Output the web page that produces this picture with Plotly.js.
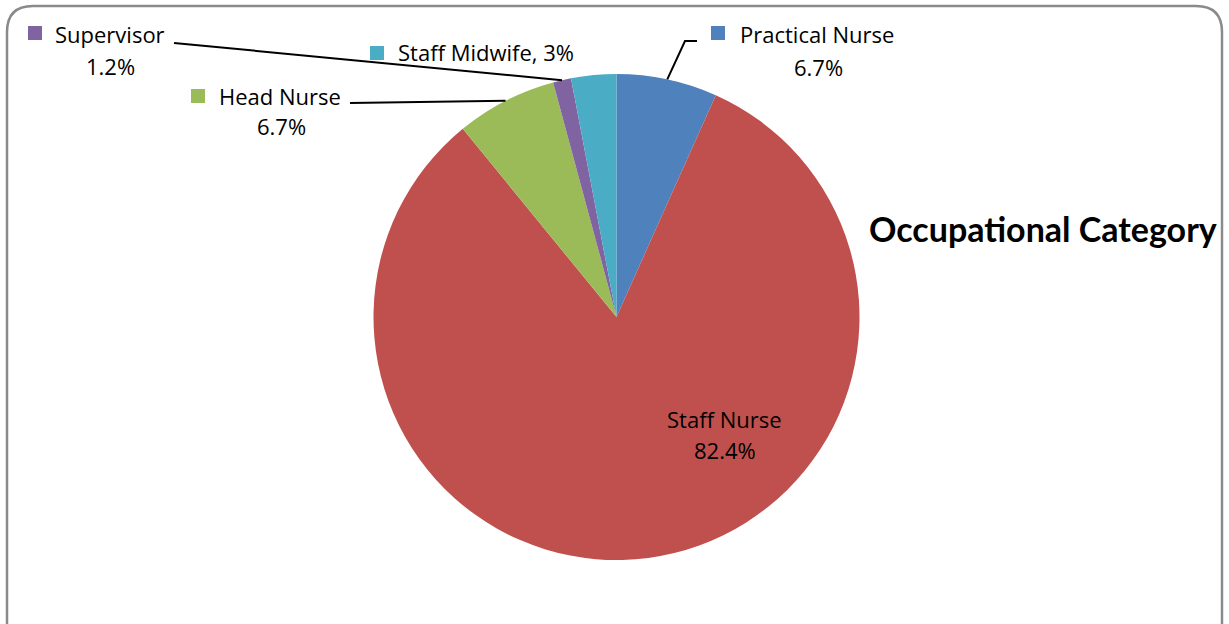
<!DOCTYPE html>
<html>
<head>
<meta charset="utf-8">
<script src="https://cdn.plot.ly/plotly-3.0.1.min.js"></script>
<style>html,body{margin:0;padding:0;background:#fff;}#chart{width:1229px;height:624px;}</style>
</head>
<body>
<div id="chart"></div>
<script>
// ---- data ----
const categories = ["Practical Nurse", "Staff Nurse", "Head Nurse", "Supervisor", "Staff Midwife"];
const percents = [6.7, 82.4, 6.7, 1.2, 3];
const colors = ["#4F81BD", "#C0504D", "#9BBB59", "#8064A2", "#4BACC6"];
const chartTitle = "Occupational Category";

// ---- layout helpers ----
const W = 1229, H = 624;
const px = x => x / W;
const py = y => 1 - y / H;
const cx = 616.5, cy = 317, R = 243;

// label placement (pixel positions of label text), per category index
const labelCfg = [
  {name: {x: 738, y: 34}, pct: {x: 818, y: 67}, key: {x: 711, y: 26}, line: [[697, 41], [685, 41]]},
  {inside: true, name: {x: 724, y: 419}, pct: {x: 725, y: 450}},
  {name: {x: 217, y: 96}, pct: {x: 281, y: 126}, key: {x: 191, y: 89}, line: [[350, 103]]},
  {name: {x: 53, y: 34}, pct: {x: 110, y: 66}, key: {x: 28, y: 26}, line: [[174, 43]]},
  {single: true, name: {x: 396, y: 52}, key: {x: 370, y: 46}}
];

const total = percents.reduce((a, b) => a + b, 0);
const annotations = [];
const shapes = [];
const font = {family: "Open Sans, sans-serif", size: 22, color: "#000"};
let cum = 0;
percents.forEach((v, i) => {
  const mid = (cum + v / 2) / total * 2 * Math.PI;
  cum += v;
  const edge = [cx + R * Math.sin(mid), cy - R * Math.cos(mid)];
  const c = labelCfg[i];
  const pctText = v + "%";
  if (c.inside) {
    annotations.push({x: px(c.name.x), y: py(c.name.y), xref: "paper", yref: "paper", text: categories[i], showarrow: false, xanchor: "center", yanchor: "middle", font});
    annotations.push({x: px(c.pct.x), y: py(c.pct.y), xref: "paper", yref: "paper", text: pctText, showarrow: false, xanchor: "center", yanchor: "middle", font});
    return;
  }
  if (c.single) {
    annotations.push({x: px(c.name.x), y: py(c.name.y), xref: "paper", yref: "paper", text: categories[i] + ", " + pctText, showarrow: false, xanchor: "left", yanchor: "middle", font});
  } else {
    annotations.push({x: px(c.name.x), y: py(c.name.y), xref: "paper", yref: "paper", text: categories[i], showarrow: false, xanchor: "left", yanchor: "middle", font});
    annotations.push({x: px(c.pct.x), y: py(c.pct.y), xref: "paper", yref: "paper", text: pctText, showarrow: false, xanchor: "center", yanchor: "middle", font});
  }
  // legend key square
  shapes.push({type: "rect", xref: "paper", yref: "paper", x0: px(c.key.x), x1: px(c.key.x + 14), y0: py(c.key.y), y1: py(c.key.y + 14), fillcolor: colors[i], line: {width: 0}});
  if (c.line) {
    const pts = c.line.concat([edge]);
    let p = "M " + pts.map(q => px(q[0]) + "," + py(q[1])).join(" L ");
    shapes.push({type: "path", xref: "paper", yref: "paper", path: p, line: {color: "#000", width: 2}});
  }
});

// chart border (rounded rectangle)
(function () {
  const x0 = 7, x1 = 1222, y0 = 6, y1 = 660, r = 26;
  const P = (x, y) => px(x) + "," + py(y);
  const path = "M " + P(x0 + r, y0) + " L " + P(x1 - r, y0) + " Q " + P(x1, y0) + " " + P(x1, y0 + r) +
    " L " + P(x1, y1 - r) + " Q " + P(x1, y1) + " " + P(x1 - r, y1) + " L " + P(x0 + r, y1) +
    " Q " + P(x0, y1) + " " + P(x0, y1 - r) + " L " + P(x0, y0 + r) + " Q " + P(x0, y0) + " " + P(x0 + r, y0) + " Z";
  shapes.push({type: "path", xref: "paper", yref: "paper", path, line: {color: "#8a8a8a", width: 2.5}, layer: "above"});
})();

annotations.push({x: px(867), y: py(228), xref: "paper", yref: "paper", text: "<b>" + chartTitle + "</b>", showarrow: false, xanchor: "left", yanchor: "middle", font: {family: "Lato, sans-serif", size: 34, color: "#000"}});

const trace = {
  type: "pie",
  labels: categories,
  values: percents,
  marker: {colors: colors, line: {width: 0}},
  sort: false,
  direction: "clockwise",
  rotation: 0,
  textinfo: "none",
  hoverinfo: "label+percent",
  showlegend: false,
  domain: {x: [px(cx - R), px(cx + R)], y: [py(cy + R), py(cy - R)]}
};

Plotly.newPlot("chart", [trace], {
  width: W, height: H,
  margin: {l: 0, r: 0, t: 0, b: 0},
  paper_bgcolor: "#fff",
  plot_bgcolor: "#fff",
  showlegend: false,
  annotations, shapes
}, {displayModeBar: false, staticPlot: true});
</script>
</body>
</html>
